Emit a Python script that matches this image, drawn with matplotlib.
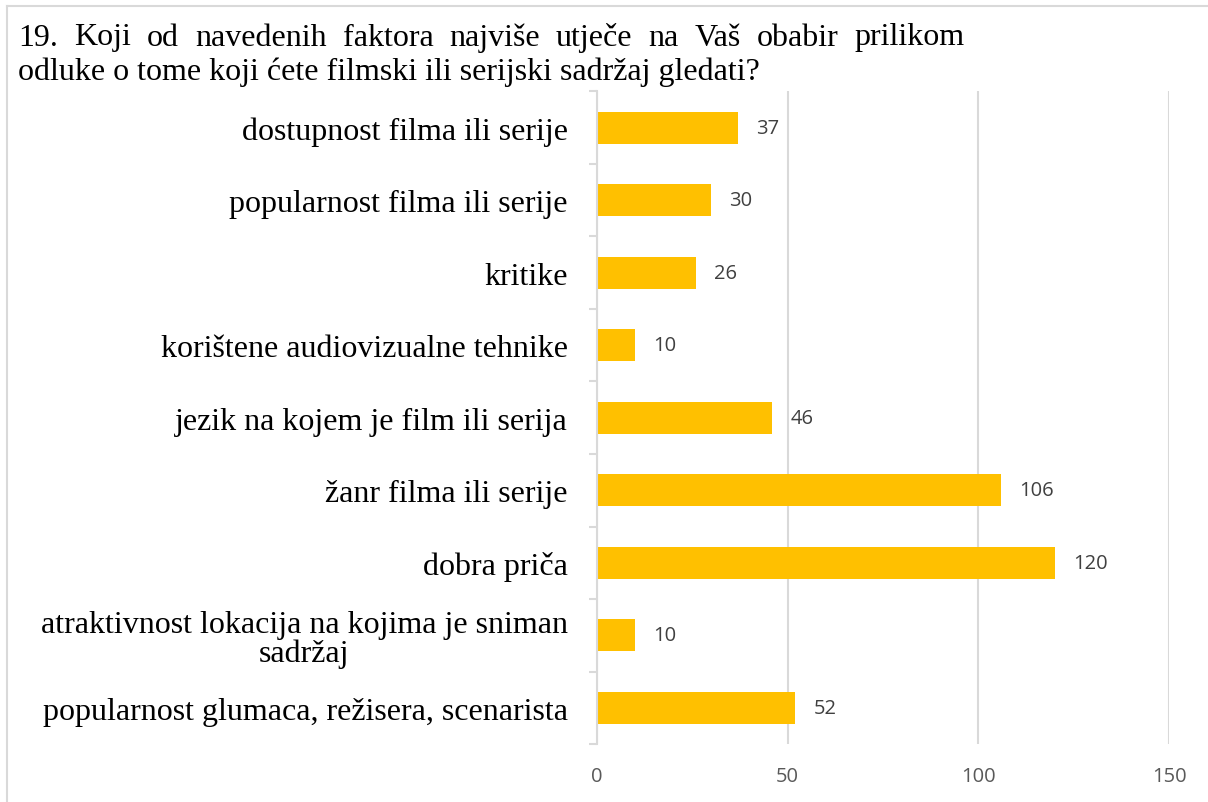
import matplotlib.pyplot as plt
from matplotlib.lines import Line2D

kategorije = [
    'dostupnost filma ili serije',
    'popularnost filma ili serije',
    'kritike',
    'korištene audiovizualne tehnike',
    'jezik na kojem je film ili serija',
    'žanr filma ili serije',
    'dobra priča',
    'atraktivnost lokacija na kojima je sniman\nsadržaj',
    'popularnost glumaca, režisera, scenarista',
]
vrijednosti = [37, 30, 26, 10, 46, 106, 120, 10, 52]
x_tickovi = [0, 50, 100, 150]

naslov_1 = '19. Koji od navedenih faktora najviše utječe na Vaš obabir prilikom'
naslov_2 = 'odluke o tome koji ćete filmski ili serijski sadržaj gledati?'

fig = plt.figure(figsize=(12.08, 8.03), dpi=100)
ax = fig.add_axes([0.494, 0.072, 0.474, 0.813])

y = list(range(len(kategorije)))
ax.barh(y, vrijednosti, height=0.44, color='#FFC000')
ax.set_ylim(len(kategorije) - 0.5, -0.5)
ax.set_xlim(0, 150)

for yi, v in zip(y, vrijednosti):
    ax.annotate(str(v), (v, yi), xytext=(13, 0), textcoords='offset points',
                va='center', ha='left', fontsize=14.5, color='#404040',
                family='Open Sans')

# mreža i osi
ax.set_xticks(x_tickovi)
ax.set_xticklabels([str(t) for t in x_tickovi], family='Open Sans',
                   fontsize=14.5, color='#595959')
ax.tick_params(axis='x', length=0, pad=16)
ax.grid(axis='x', color='#D9D9D9', linewidth=1.5)
ax.set_axisbelow(True)
for s in ['top', 'right', 'bottom']:
    ax.spines[s].set_visible(False)
ax.spines['left'].set_color('#D9D9D9')
ax.spines['left'].set_linewidth(1.5)

ax.set_yticks([i - 0.5 for i in range(len(kategorije) + 1)], minor=False)
ax.set_yticklabels([])
ax.tick_params(axis='y', which='major', length=6, color='#D9D9D9', width=1.5)
ax.set_yticks(y, minor=True)
ax.set_yticklabels(kategorije, minor=True, family='Liberation Serif',
                   fontsize=23, color='black', multialignment='center',
                   linespacing=1.0)
ax.tick_params(axis='y', which='minor', length=0, pad=21)

# naslov - prvi red poravnat obostrano
lijevo, desno = 18 / 1208, 965 / 1208
rijeci = naslov_1.split(' ')
renderer = fig.canvas.get_renderer()
tekstovi = [fig.text(0, 1 - 38 / 803, r, family='Liberation Serif', fontsize=23,
                     va='center', ha='left') for r in rijeci]
sirine = [t.get_window_extent(renderer).width / fig.bbox.width for t in tekstovi]
razmak = (desno - lijevo - sum(sirine)) / (len(rijeci) - 1)
x = lijevo
for t, s in zip(tekstovi, sirine):
    t.set_x(x)
    x += s + razmak
fig.text(lijevo, 1 - 72 / 803, naslov_2, family='Liberation Serif', fontsize=23,
         va='center', ha='left')

# okvir grafikona
fig.add_artist(Line2D([0.006, 1.0], [0.991, 0.991], color='#D9D9D9', lw=1.5))
fig.add_artist(Line2D([0.006, 0.006], [0.0, 0.991], color='#D9D9D9', lw=1.5))

fig.savefig('out.png', dpi=100)
